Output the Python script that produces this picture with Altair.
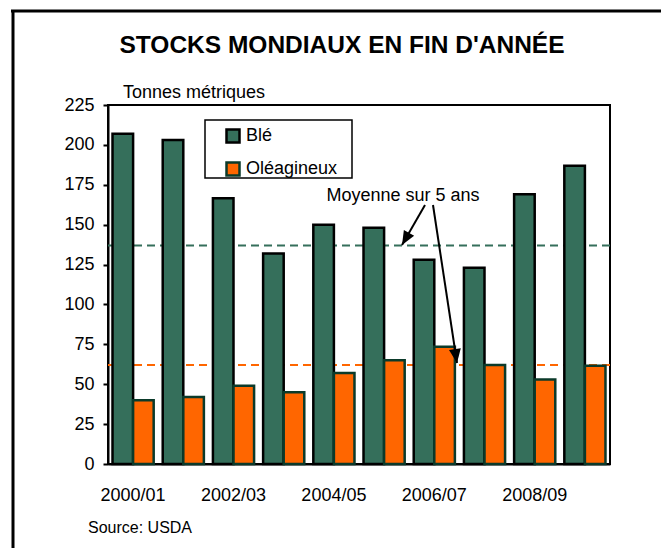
import altair as alt
import pandas as pd

# ---------------- data ----------------
categories = ["2000/01", "2001/02", "2002/03", "2003/04", "2004/05",
              "2005/06", "2006/07", "2007/08", "2008/09", "2009/10"]
shown_labels = ["2000/01", "2002/03", "2004/05", "2006/07", "2008/09"]
series = ["Blé", "Oléagineux"]
ble = [207, 203, 166.5, 132, 150, 148, 128, 123, 169, 187]
oleagineux = [40, 42, 49, 45, 57, 65, 73.5, 62, 53, 61.5]
averages = [137, 62]
y_ticks = [0, 25, 50, 75, 100, 125, 150, 175, 200, 225]

title_text = ["STOCKS MONDIAUX EN FIN D'ANNÉE"]
unit_text = ["Tonnes métriques"]
source_text = ["Source: USDA"]
note_text = ["Moyenne sur 5 ans"]

# ---------------- style ----------------
FONT = "Liberation Sans"
colors = ["#356F5B", "#FF6600"]
strokes = ["#000000", "#0B3A2A"]

rows = []
for c, b, o in zip(categories, ble, oleagineux):
    rows.append({"annee": c, "serie": series[0], "valeur": b})
    rows.append({"annee": c, "serie": series[1], "valeur": o})
df = pd.DataFrame(rows)
avg_df = pd.DataFrame({"serie": series, "moyenne": averages})

x_axis = alt.Axis(values=shown_labels, title=None, labelAngle=0, ticks=False,
                  tickSize=0, labelPadding=22, labelFontSize=18, labelFont=FONT,
                  labelColor="black", domainColor="black", domainWidth=2)
y_axis = alt.Axis(values=y_ticks, title=None, grid=False, tickSize=5,
                  tickColor="black", tickWidth=2, labelPadding=9,
                  labelFontSize=18, labelFont=FONT, labelColor="black",
                  domainColor="black", domainWidth=2)
y_scale = alt.Scale(domain=[0, 225], nice=False)

legend = alt.Legend(title=None, orient="none", legendX=116, legendY=22,
                    symbolType="square", symbolSize=169, symbolStrokeWidth=2.5,
                    symbolOpacity=1, labelFontSize=18, labelFont=FONT,
                    labelColor="black", rowPadding=9, padding=0, labelOffset=4)

# average lines (behind bars)
avg_layers = []
for s, col in zip(series, colors):
    avg_layers.append(
        alt.Chart(avg_df).transform_filter(alt.datum.serie == s)
        .mark_rule(color=col, strokeWidth=2, strokeDash=[8, 5])
        .encode(y=alt.Y("moyenne:Q", scale=y_scale, axis=y_axis))
    )

bars = alt.Chart(df).mark_bar(strokeWidth=2.5, strokeOpacity=1).encode(
    x=alt.X("annee:N", sort=categories,
            scale=alt.Scale(domain=categories, paddingInner=0.18, paddingOuter=0.09),
            axis=x_axis),
    xOffset=alt.XOffset("serie:N", sort=series,
                        scale=alt.Scale(domain=series, paddingInner=0, paddingOuter=0)),
    y=alt.Y("valeur:Q", scale=y_scale, axis=y_axis),
    color=alt.Color("serie:N", sort=series,
                    scale=alt.Scale(domain=series, range=colors), legend=legend),
    stroke=alt.Stroke("serie:N", sort=series,
                      scale=alt.Scale(domain=series, range=strokes), legend=legend),
)

one = pd.DataFrame({"k": [0]})

# legend frame
legend_frame = alt.Chart(one).mark_rect(fill="white", stroke="black", strokeWidth=1.5).encode(
    x=alt.value(97), x2=alt.value(244), y=alt.value(15), y2=alt.value(73))

def text_layer(txt, x, y, size, align="left", baseline="alphabetic", bold=False):
    return alt.Chart(pd.DataFrame({"t": txt})).mark_text(
        font=FONT, fontSize=size, align=align, baseline=baseline,
        fontWeight="bold" if bold else "normal", color="black"
    ).encode(x=alt.value(x), y=alt.value(y), text="t:N")

title = text_layer(title_text, 234, -59, 24.5, align="center", baseline="middle", bold=True)
unit = text_layer(unit_text, 15, -7, 18)
source = text_layer(source_text, -20, 428, 16)
note = text_layer(note_text, 295, 96, 18, align="center")

# arrows
def arrow(x1, y1, x2, y2, ang):
    line = alt.Chart(one).mark_rule(color="black", strokeWidth=2).encode(
        x=alt.value(x1), y=alt.value(y1), x2=alt.value(x2), y2=alt.value(y2))
    head = alt.Chart(one).mark_point(shape="M0,0L-0.85,-2L0.85,-2Z", filled=True,
                                     size=196, angle=ang, color="black", opacity=1).encode(
        x=alt.value(x2), y=alt.value(y2))
    return [line, head]

arrows = arrow(317, 100, 294, 140, 30) + arrow(325, 100, 349, 258, 351.4)

# outer frame
frame_left = alt.Chart(one).mark_rule(color="black", strokeWidth=3).encode(
    x=alt.value(-95), y=alt.value(-94), y2=alt.value(443))
frame_top = alt.Chart(one).mark_rule(color="black", strokeWidth=3).encode(
    x=alt.value(-97), x2=alt.value(553), y=alt.value(-94))

chart = alt.layer(
    *avg_layers, bars, legend_frame, title, unit, source, note, *arrows,
    frame_left, frame_top
).properties(
    width=502, height=359,
    autosize=alt.AutoSizeParams(type="none"),
    padding={"left": 100, "top": 97, "right": 51, "bottom": 84},
    background="white",
).configure_view(stroke="black", strokeWidth=2)

chart.save("out.html", embed_options={"renderer": "svg", "actions": False})
